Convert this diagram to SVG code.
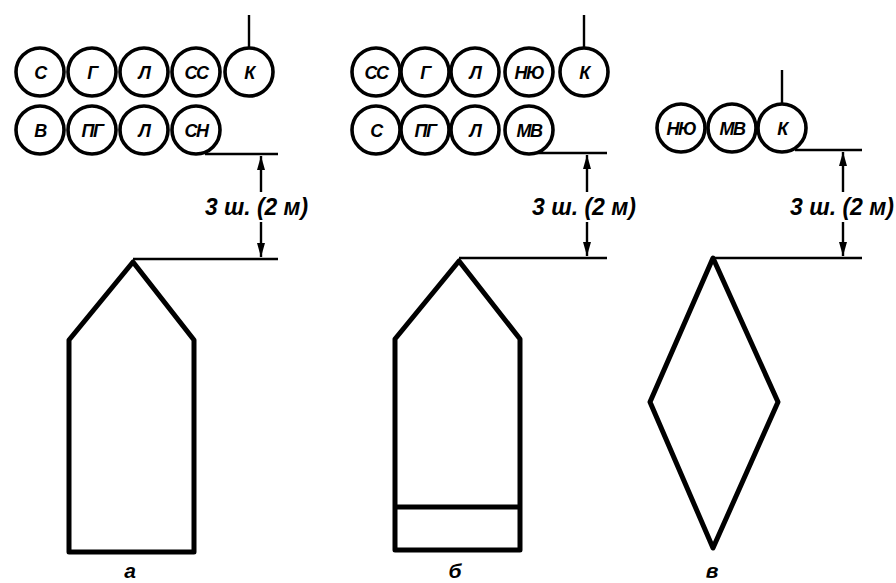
<svg xmlns="http://www.w3.org/2000/svg" width="896" height="583" viewBox="0 0 896 583">
<style>
.c{fill:#fff;stroke:#000;stroke-width:3.6}
.t{font-family:"Liberation Sans",Arial,sans-serif;font-weight:bold;font-style:italic;font-size:18px;letter-spacing:-1.5px;text-anchor:middle;fill:#000}
.hull{fill:none;stroke:#000;stroke-width:5;stroke-linejoin:round}
.ln{fill:none;stroke:#000;stroke-width:2.4}
.dim{font-family:"Liberation Sans",Arial,sans-serif;font-weight:bold;font-style:italic;font-size:23px;fill:#000}
.lab{font-family:"Liberation Sans",Arial,sans-serif;font-weight:bold;font-style:italic;font-size:21px;text-anchor:middle;fill:#000}
</style>
<defs>
<marker id="ar" viewBox="0 0 14 10" refX="14" refY="5" markerWidth="14" markerHeight="10" markerUnits="userSpaceOnUse" orient="auto">
<path d="M0,1 L14,5 L0,9 Z" fill="#000"/>
</marker>
</defs>
<rect width="896" height="583" fill="#fff"/>

<g id="connectors">
<!-- panel a -->
<line class="ln" x1="249" y1="15" x2="249" y2="48" stroke-width="3.2"/>
<line class="ln" x1="205" y1="154" x2="278" y2="154"/>
<line class="ln" x1="133" y1="259" x2="278" y2="259"/>
<line class="ln" x1="261" y1="192" x2="261" y2="156" marker-end="url(#ar)"/>
<line class="ln" x1="261" y1="222" x2="261" y2="257" marker-end="url(#ar)"/>
<!-- panel b -->
<line class="ln" x1="584" y1="15" x2="584" y2="48" stroke-width="3.2"/>
<line class="ln" x1="535" y1="153" x2="607" y2="153"/>
<line class="ln" x1="459" y1="258" x2="607" y2="258"/>
<line class="ln" x1="587" y1="192" x2="587" y2="155" marker-end="url(#ar)"/>
<line class="ln" x1="587" y1="222" x2="587" y2="256" marker-end="url(#ar)"/>
<!-- panel c -->
<line class="ln" x1="782" y1="70" x2="782" y2="104" stroke-width="3.2"/>
<line class="ln" x1="795" y1="150" x2="862" y2="150"/>
<line class="ln" x1="713" y1="258" x2="862" y2="258"/>
<line class="ln" x1="843" y1="192" x2="843" y2="152" marker-end="url(#ar)"/>
<line class="ln" x1="843" y1="222" x2="843" y2="256" marker-end="url(#ar)"/>
</g>

<!-- panel a nodes -->
<g id="a-S"><circle class="c" cx="40" cy="72" r="24"/><text class="t" x="40" y="79">С</text></g>
<g id="a-G"><circle class="c" cx="92" cy="72" r="24"/><text class="t" x="92" y="79">Г</text></g>
<g id="a-L1"><circle class="c" cx="144" cy="72" r="24"/><text class="t" x="144" y="79">Л</text></g>
<g id="a-SS"><circle class="c" cx="196" cy="72" r="24"/><text class="t" x="196" y="79">СС</text></g>
<g id="a-K"><circle class="c" cx="249" cy="72" r="24"/><text class="t" x="249" y="79">К</text></g>
<g id="a-V"><circle class="c" cx="40" cy="130" r="24"/><text class="t" x="40" y="137">В</text></g>
<g id="a-PG"><circle class="c" cx="92" cy="130" r="24"/><text class="t" x="92" y="137">ПГ</text></g>
<g id="a-L2"><circle class="c" cx="144" cy="130" r="24"/><text class="t" x="144" y="137">Л</text></g>
<g id="a-SN"><circle class="c" cx="196" cy="130" r="24"/><text class="t" x="196" y="137">СН</text></g>
<text class="dim" x="205" y="215" textLength="103" lengthAdjust="spacingAndGlyphs">3 ш. (2 м)</text>
<g id="a-hull"><path class="hull" d="M133,262 L69,340 L69,552 L194,552 L194,340 Z"/></g>
<text class="lab" x="130" y="578">а</text>

<!-- panel b nodes -->
<g id="b-SS"><circle class="c" cx="376" cy="72" r="24"/><text class="t" x="376" y="79">СС</text></g>
<g id="b-G"><circle class="c" cx="425" cy="72" r="24"/><text class="t" x="425" y="79">Г</text></g>
<g id="b-L1"><circle class="c" cx="475" cy="72" r="24"/><text class="t" x="475" y="79">Л</text></g>
<g id="b-NU"><circle class="c" cx="529" cy="72" r="24"/><text class="t" x="529" y="79">НЮ</text></g>
<g id="b-K"><circle class="c" cx="584" cy="72" r="24"/><text class="t" x="584" y="79">К</text></g>
<g id="b-S"><circle class="c" cx="376" cy="130" r="24"/><text class="t" x="376" y="137">С</text></g>
<g id="b-PG"><circle class="c" cx="425" cy="130" r="24"/><text class="t" x="425" y="137">ПГ</text></g>
<g id="b-L2"><circle class="c" cx="475" cy="130" r="24"/><text class="t" x="475" y="137">Л</text></g>
<g id="b-MV"><circle class="c" cx="529" cy="130" r="24"/><text class="t" x="529" y="137">МВ</text></g>
<text class="dim" x="532" y="215" textLength="104" lengthAdjust="spacingAndGlyphs">3 ш. (2 м)</text>
<g id="b-hull"><path class="hull" d="M459,261 L395,339 L395,550 L520,550 L520,339 Z"/><line class="hull" x1="395" y1="507" x2="520" y2="507"/></g>
<text class="lab" x="455" y="578">б</text>

<!-- panel c nodes -->
<g id="c-NU"><circle class="c" cx="681" cy="128" r="24"/><text class="t" x="681" y="135">НЮ</text></g>
<g id="c-MV"><circle class="c" cx="732" cy="128" r="24"/><text class="t" x="732" y="135">МВ</text></g>
<g id="c-K"><circle class="c" cx="782" cy="128" r="24"/><text class="t" x="782" y="135">К</text></g>
<text class="dim" x="790" y="215" textLength="104" lengthAdjust="spacingAndGlyphs">3 ш. (2 м)</text>
<g id="c-hull"><path class="hull" d="M713,258 L778,402 L713,548 L650,402 Z"/></g>
<text class="lab" x="712" y="578">в</text>
</svg>
